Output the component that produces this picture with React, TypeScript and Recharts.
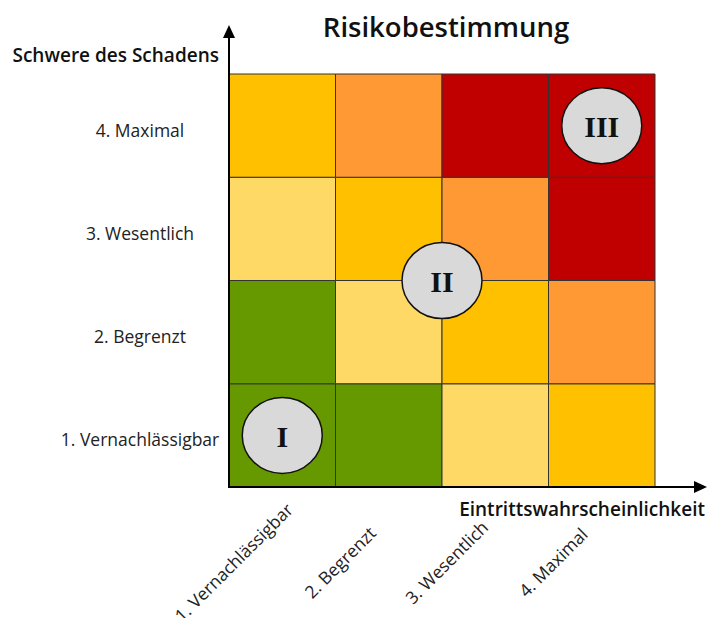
import React from "react";
import { ScatterChart, Scatter, XAxis, YAxis, ReferenceArea } from "recharts";

const W = 707;
const H = 618;

// Achsenkategorien (1 → 4)
const severityLabels = ["1. Vernachlässigbar", "2. Begrenzt", "3. Wesentlich", "4. Maximal"];
const probabilityLabels = ["1. Vernachlässigbar", "2. Begrenzt", "3. Wesentlich", "4. Maximal"];

// Risikostufe je Zelle: Zeile = Schwere 1..4, Spalte = Eintrittswahrscheinlichkeit 1..4
const riskLevels = [
  [0, 0, 1, 2],
  [0, 1, 2, 3],
  [1, 2, 3, 4],
  [2, 3, 4, 4],
];
const levelColors = ["#669900", "#ffd966", "#ffc000", "#ff9933", "#c00000"];

// Zonen-Markierungen
const zones = [
  { x: 0.5, y: 0.5, label: "I" },
  { x: 2, y: 2, label: "II" },
  { x: 3.5, y: 3.5, label: "III" },
];

const ticks = [0.5, 1.5, 2.5, 3.5];
const FONT = "'Open Sans', 'Noto Sans', sans-serif";

const cells = riskLevels.flatMap((row, s) =>
  row.map((lvl, p) => ({ x1: p, x2: p + 1, y1: s, y2: s + 1, color: levelColors[lvl] }))
);

const YTick = (props: any) => {
  const { y, payload } = props;
  const label = severityLabels[Math.floor(payload.value)];
  return (
    <text x={140} y={y + 4} textAnchor="middle" dominantBaseline="central" fontSize={17.5} fontFamily={FONT} fill="#222">
      {label}
    </text>
  );
};

const XTick = (props: any) => {
  const { x, payload } = props;
  const label = probabilityLabels[Math.floor(payload.value)];
  const cx = x - 49;
  const cy = 562;
  return (
    <text
      x={cx}
      y={cy}
      textAnchor="middle"
      dominantBaseline="central"
      fontSize={17.5}
      fontFamily={FONT}
      fill="#222"
      transform={`rotate(-45 ${cx} ${cy})`}
    >
      {label}
    </text>
  );
};

const ZoneShape = (props: any) => {
  const { cx, cy, payload } = props;
  return (
    <g>
      <ellipse cx={cx} cy={cy} rx={40} ry={38} fill="#d9d9d9" stroke="#111" strokeWidth={1.5} />
      <text
        x={cx}
        y={cy + 1}
        textAnchor="middle"
        dominantBaseline="central"
        fontSize={30}
        fontWeight={700}
        fontFamily="'Liberation Serif', 'DejaVu Serif', serif"
        fill="#111"
      >
        {payload.label}
      </text>
    </g>
  );
};

export default function App() {
  return (
    <div style={{ position: "absolute", left: 0, top: 0, width: W, height: H, background: "#fff" }}>
      <ScatterChart width={W} height={H} margin={{ top: 74, right: 52, bottom: 31, left: 29 }}>
        <XAxis
          type="number"
          dataKey="x"
          domain={[0, 4]}
          ticks={ticks}
          interval={0}
          axisLine={false}
          tickLine={false}
          height={100}
          tick={<XTick />}
        />
        <YAxis
          type="number"
          dataKey="y"
          domain={[0, 4]}
          ticks={ticks}
          interval={0}
          axisLine={false}
          tickLine={false}
          width={200}
          tick={<YTick />}
        />
        {cells.map((c, i) => (
          <ReferenceArea
            key={i}
            x1={c.x1}
            x2={c.x2}
            y1={c.y1}
            y2={c.y2}
            fill={c.color}
            fillOpacity={1}
            stroke="#333"
            strokeOpacity={1}
            strokeWidth={1}
          />
        ))}
        <Scatter data={zones} shape={<ZoneShape />} isAnimationActive={false} />
      </ScatterChart>
      <svg width={W} height={H} style={{ position: "absolute", left: 0, top: 0, pointerEvents: "none" }}>
        <text x={446} y={26} textAnchor="middle" dominantBaseline="central" fontSize={27.5} fontWeight={600} fontFamily={FONT} fill="#111">
          Risikobestimmung
        </text>
        <text x={219} y={55} textAnchor="end" dominantBaseline="central" fontSize={19} fontWeight={600} fontFamily={FONT} fill="#111">
          Schwere des Schadens
        </text>
        <text x={705} y={509} textAnchor="end" dominantBaseline="central" fontSize={19} fontWeight={600} fontFamily={FONT} fill="#111">
          Eintrittswahrscheinlichkeit
        </text>
        <line x1={229} y1={488} x2={229} y2={36} stroke="#000" strokeWidth={2} />
        <polygon points="229,25 223,38 235,38" fill="#000" />
        <line x1={228} y1={487} x2={696} y2={487} stroke="#000" strokeWidth={2} />
        <polygon points="707,487 694,481 694,493" fill="#000" />
      </svg>
    </div>
  );
}
